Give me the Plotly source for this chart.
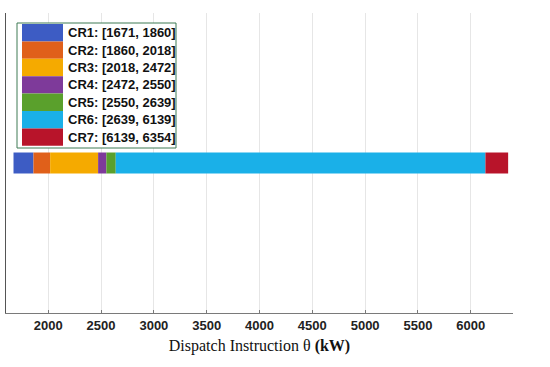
import plotly.graph_objects as go

cr_names = ["CR1", "CR2", "CR3", "CR4", "CR5", "CR6", "CR7"]
cr_start = [1671, 1860, 2018, 2472, 2550, 2639, 6139]
cr_end = [1860, 2018, 2472, 2550, 2639, 6139, 6354]
cr_colors = ["#3d5cc4", "#e0601a", "#f5aa00", "#7e3a9a", "#5aa02c", "#1ab0e8", "#b8142a"]
tick_vals = [2000, 2500, 3000, 3500, 4000, 4500, 5000, 5500, 6000]

W, H = 550, 367
L, R, T, B = 6, 37, 13, 54
pw, ph = W - L - R, H - T - B

def px(x):
    return (x - L) / pw

def py(y):
    return (H - B - y) / ph

fig = go.Figure()
for name, s, e, c in zip(cr_names, cr_start, cr_end, cr_colors):
    fig.add_trace(go.Bar(
        y=[0], x=[e - s], base=[s], orientation="h", width=0.14,
        marker=dict(color=c, line=dict(width=0)), name=name, showlegend=False,
    ))

shapes = []
annotations = []
# legend box
shapes.append(dict(type="rect", xref="paper", yref="paper",
                   x0=px(17), x1=px(176), y0=py(148), y1=py(23),
                   line=dict(color="#3f7a55", width=1), fillcolor="white", layer="above"))
row_top, row_h = 24, 17.4
for i, (name, s, e, c) in enumerate(zip(cr_names, cr_start, cr_end, cr_colors)):
    y0 = row_top + i * row_h
    shapes.append(dict(type="rect", xref="paper", yref="paper",
                       x0=px(22), x1=px(63), y0=py(y0 + row_h), y1=py(y0),
                       line=dict(width=0), fillcolor=c, layer="above"))
    annotations.append(dict(xref="paper", yref="paper", x=px(66), y=py(y0 + row_h / 2),
                            xanchor="left", yanchor="middle", showarrow=False,
                            text=f"<b>{name}: [{s}, {e}]</b>",
                            font=dict(family="Arial, Liberation Sans", size=13, color="#111")))

fig.update_layout(
    width=W, height=H,
    margin=dict(l=L, r=R, t=T, b=B, autoexpand=False),
    paper_bgcolor="white", plot_bgcolor="white",
    barmode="overlay",
    shapes=shapes, annotations=annotations,
    xaxis=dict(
        range=[1600, 6400], tickvals=tick_vals, ticktext=[str(v) for v in tick_vals],
        automargin=False,
        showgrid=True, gridcolor="#e6e6e6", gridwidth=1,
        showline=True, linecolor="#7a7a7a", linewidth=1,
        ticks="inside", ticklen=3, tickcolor="#7a7a7a",
        tickfont=dict(family="Arial, Liberation Sans", size=13, color="#222", weight="bold"),
        title=dict(text="Dispatch Instruction θ <b>(kW)</b>", standoff=8,
                   font=dict(family="Times New Roman, Liberation Serif", size=16, color="#111")),
        zeroline=False,
    ),
    yaxis=dict(
        range=[-1, 1], showticklabels=False, showgrid=False, zeroline=False,
        automargin=False,
        showline=True, linecolor="#555", linewidth=1, ticks="",
    ),
)

fig.write_html("out.html", config={"displayModeBar": False},
               post_script="document.body.style.margin='0';document.body.style.overflow='hidden';")
